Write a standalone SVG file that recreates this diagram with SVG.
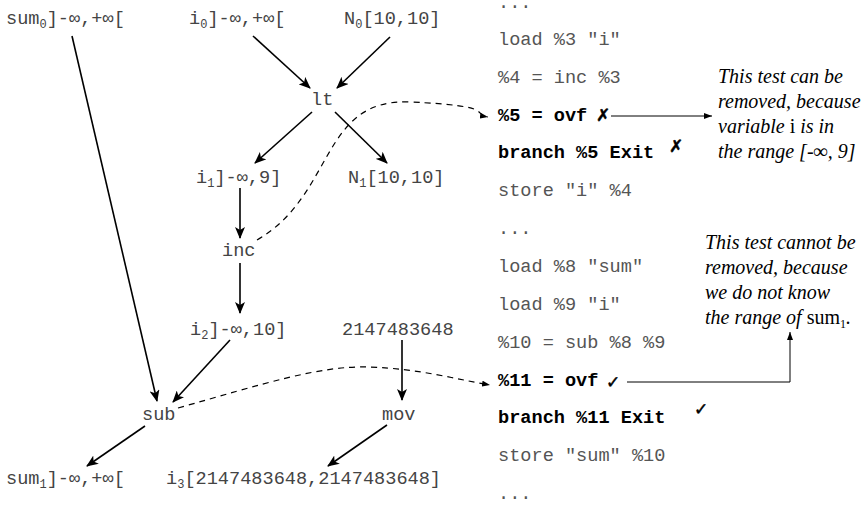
<svg xmlns="http://www.w3.org/2000/svg" width="863" height="513" viewBox="0 0 863 513">
<defs>
<marker id="ah" viewBox="0 0 12 10" refX="11" refY="5" markerWidth="12" markerHeight="10" markerUnits="userSpaceOnUse" orient="auto">
<path d="M0,0 L12,5 L0,10 L3,5 z" fill="#000"/>
</marker>
<marker id="sh" viewBox="0 0 8 6" refX="8" refY="3" markerWidth="8" markerHeight="6" markerUnits="userSpaceOnUse" orient="auto">
<path d="M0,0 L8,3 L0,6 z" fill="#000"/>
</marker>
</defs>
<style>
.g{font-family:"Liberation Mono","Courier New",monospace;font-size:18.6px;fill:#444}
.c{font-family:"Liberation Mono","Courier New",monospace;font-size:18.6px;fill:#555}
.b{font-family:"Liberation Mono","Courier New",monospace;font-size:18.6px;font-weight:bold;fill:#000}
.s{font-size:12px}
.n{font-family:"Liberation Serif","Times New Roman",serif;font-size:20px;font-style:italic;fill:#000}
.u{font-style:normal}
.mk{font-family:"DejaVu Sans",sans-serif;font-size:17px;fill:#000;stroke:#000;stroke-width:0.5}
.e{stroke:#000;stroke-width:1.6;fill:none;marker-end:url(#ah)}
.d{stroke:#000;stroke-width:1.2;fill:none;stroke-dasharray:6,5;marker-end:url(#sh)}
.t{stroke:#000;stroke-width:1;fill:none;marker-end:url(#sh)}
</style>
<g id="connectors">
<line class="e" x1="72" y1="36" x2="157" y2="401"/>
<line class="e" x1="253" y1="36" x2="310" y2="88"/>
<line class="e" x1="390" y1="37" x2="337" y2="88"/>
<line class="e" x1="312" y1="112" x2="255" y2="163"/>
<line class="e" x1="335" y1="112" x2="387" y2="163"/>
<line class="e" x1="240" y1="188" x2="240" y2="238"/>
<line class="e" x1="240" y1="263" x2="240" y2="313"/>
<line class="e" x1="230" y1="340" x2="173" y2="402"/>
<line class="e" x1="402" y1="340" x2="402" y2="400"/>
<line class="e" x1="145" y1="426" x2="87" y2="466"/>
<line class="e" x1="387" y1="425" x2="328" y2="466"/>
<path class="d" d="M257,240 C335,195 320,98 410,102 S470,114 488,117"/>
<path class="d" d="M178,408 C260,385 320,365 370,367 S450,378 490,385"/>
<line class="t" x1="611" y1="116" x2="712" y2="116"/>
<polyline class="t" points="627,382 790,382 790,332"/>
</g>
<g id="sum0"><text class="g" x="6" y="24">sum<tspan class="s" dy="4">0</tspan><tspan dy="-4">]-∞,+∞[</tspan></text></g>
<g id="i0"><text class="g" x="189" y="24">i<tspan class="s" dy="4">0</tspan><tspan dy="-4">]-∞,+∞[</tspan></text></g>
<g id="N0"><text class="g" x="344" y="24">N<tspan class="s" dy="4">0</tspan><tspan dy="-4">[10,10]</tspan></text></g>
<g id="lt"><text class="g" x="311" y="105">lt</text></g>
<g id="i1"><text class="g" x="196" y="183">i<tspan class="s" dy="4">1</tspan><tspan dy="-4">]-∞,9]</tspan></text></g>
<g id="N1"><text class="g" x="348" y="183">N<tspan class="s" dy="4">1</tspan><tspan dy="-4">[10,10]</tspan></text></g>
<g id="inc"><text class="g" x="222" y="256">inc</text></g>
<g id="i2"><text class="g" x="190" y="335">i<tspan class="s" dy="4">2</tspan><tspan dy="-4">]-∞,10]</tspan></text></g>
<g id="c2147483648"><text class="g" x="342" y="335">2147483648</text></g>
<g id="sub"><text class="g" x="142" y="420">sub</text></g>
<g id="mov"><text class="g" x="382" y="420">mov</text></g>
<g id="sum1"><text class="g" x="6" y="484">sum<tspan class="s" dy="4">1</tspan><tspan dy="-4">]-∞,+∞[</tspan></text></g>
<g id="i3"><text class="g" x="166" y="484">i<tspan class="s" dy="4">3</tspan><tspan dy="-4">[2147483648,2147483648]</tspan></text></g>
<g id="code">
<text class="c" x="498" y="8">...</text>
<text class="c" x="498" y="45">load %3 "i"</text>
<text class="c" x="498" y="83">%4 = inc %3</text>
<text class="b" x="498" y="121">%5 = ovf</text>
<text class="b" x="498" y="158">branch %5 Exit</text>
<text class="c" x="498" y="196">store "i" %4</text>
<text class="c" x="498" y="234">...</text>
<text class="c" x="498" y="272">load %8 "sum"</text>
<text class="c" x="498" y="310">load %9 "i"</text>
<text class="c" x="498" y="348">%10 = sub %8 %9</text>
<text class="b" x="498" y="386">%11 = ovf</text>
<text class="b" x="498" y="423">branch %11 Exit</text>
<text class="c" x="498" y="461">store "sum" %10</text>
<text class="c" x="498" y="499">...</text>
</g>
<g id="marks">
<text class="mk" x="596" y="121">✗</text>
<text class="mk" x="669" y="152">✗</text>
<text class="mk" x="606" y="388">✓</text>
<text class="mk" x="694" y="415">✓</text>
</g>
<g id="note1">
<text class="n" x="718" y="83">This test can be</text>
<text class="n" x="718" y="108">removed, because</text>
<text class="n" x="718" y="133">variable <tspan class="u">i</tspan> is in</text>
<text class="n" x="718" y="158">the range [-∞, 9]</text>
</g>
<g id="note2">
<text class="n" x="705" y="249">This test cannot be</text>
<text class="n" x="705" y="274">removed, because</text>
<text class="n" x="705" y="299">we do not know</text>
<text class="n" x="705" y="324">the range of <tspan class="u">sum</tspan><tspan class="u" font-size="12" dy="4">1</tspan><tspan dy="-4">.</tspan></text>
</g>
</svg>
